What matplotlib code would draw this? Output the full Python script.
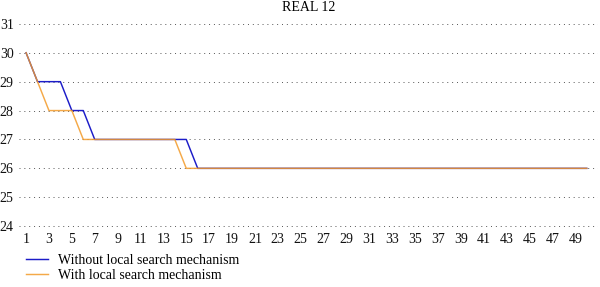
import matplotlib
matplotlib.use("Agg")
import matplotlib.pyplot as plt

# --- data --------------------------------------------------------------------
generations = list(range(1, 51))
without_ls = [30, 29, 29, 29, 28, 28] + [27] * 9 + [26] * 35
with_ls = [30, 29, 28, 28, 28] + [27] * 9 + [26] * 36
y_ticks = [24, 25, 26, 27, 28, 29, 30, 31]
x_ticks = list(range(1, 50, 2))

plt.rcParams["font.family"] = ["Liberation Serif", "DejaVu Serif"]
plt.rcParams["font.size"] = 10

fig = plt.figure(figsize=(6.0, 2.87), dpi=100)
ax = fig.add_axes([0.032, 0.209, 0.965, 0.728])

ax.plot(generations, without_ls, c="#1c1cc8", lw=1.05,
        label="Without local search mechanism")
ax.plot(generations, with_ls, c="#f39a28", lw=1.05, alpha=0.85,
        label="With local search mechanism")

ax.set_xlim(0.4, 51.0)
ax.set_ylim(23.97, 31.2)
ax.set_yticks(y_ticks)
ax.set_xticks(x_ticks)
ax.grid(axis="y", ls=(0, (1, 4)), c="#555555", lw=0.7)
ax.tick_params(length=0, pad=4, colors="#111111")
for s in ax.spines.values():
    s.set_visible(False)
ax.set_axisbelow(True)

ax.set_title("REAL 12", fontsize=10, pad=5)

fig.legend(loc="lower left", bbox_to_anchor=(0.022, -0.025), frameon=False,
           handlelength=1.6, handletextpad=0.7, labelspacing=0.12,
           fontsize=10)

fig.savefig("out.png", dpi=100)
